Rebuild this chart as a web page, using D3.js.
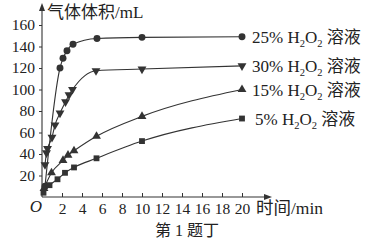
<!DOCTYPE html>
<html><head><meta charset="utf-8">
<script src="https://cdn.jsdelivr.net/npm/d3@7"></script>
<style>
body{margin:0;background:#fff;}
svg{display:block;}
</style></head>
<body><svg id="c" width="366" height="241"></svg>
<script>
// ---- data ----
const xTicks = [2,4,6,8,10,12,14,16,18,20];
const yTicks = [20,40,60,80,100,120,140,160];
const seriesNames = ["25%","30%","15%","5%"];
const markers = ["circle","triangleDown","triangleUp","square"];
const t25 = [0.3,1.8,2.1,2.5,3.1,5.5,10,20];
const v25 = [10,120,129,136,142,147.5,148.5,149];
const t30 = [0.3,0.45,0.55,1.0,1.3,1.8,2.35,2.7,3.05,5.4,10,20];
const v30 = [30,41,45,55.5,67,78,88.5,95,100,117.5,119,122];
const t15 = [0.2,0.95,2.1,2.6,3.2,5.45,10,20];
const v15 = [8,22.5,34,39,43,56.5,75,100];
const t5  = [0.15,0.75,1.55,2.3,3.2,5.45,10,20];
const v5  = [4,11,16.5,22.5,27.5,36,52,73];
const xLabel = "时间/min";
const yLabel = "气体体积/mL";
const caption = "第 1 题丁";

const svg = d3.select("#c");
const ink = "#333";
const serif = "'Liberation Serif','Noto Sans CJK SC',serif";
const x = d3.scaleLinear().domain([0,20]).range([42,242]);
const y = d3.scaleLinear().domain([0,160]).range([197,25]);

// axes
const gx = svg.append("g").attr("transform",`translate(0,${y(0)})`)
  .call(d3.axisBottom(x).tickValues(xTicks).tickSize(-4).tickPadding(6).tickSizeOuter(0));
const gy = svg.append("g").attr("transform",`translate(${x(0)},0)`)
  .call(d3.axisLeft(y).tickValues(yTicks).tickSize(3).tickPadding(4).tickSizeOuter(0));
[gx,gy].forEach(g=>{
  g.select(".domain").remove();
  g.selectAll("line").attr("stroke",ink);
  g.selectAll("text").attr("fill","#222").style("font-family",serif).style("font-size","15.5px");
});
gx.selectAll("text").attr("dy","0.71em");
// axis lines with arrows
svg.append("line").attr("x1",x(0)).attr("x2",268).attr("y1",y(0)).attr("y2",y(0)).attr("stroke",ink).attr("stroke-width",1.1);
svg.append("path").attr("d",`M272,${y(0)} L264,${y(0)-3} L264,${y(0)+3} Z`).attr("fill",ink);
svg.append("line").attr("x1",x(0)).attr("x2",x(0)).attr("y1",y(0)).attr("y2",8).attr("stroke",ink).attr("stroke-width",1.1);
svg.append("path").attr("d",`M${x(0)},3 L${x(0)-3},11 L${x(0)+3},11 Z`).attr("fill",ink);

svg.append("text").attr("x",36).attr("y",212).attr("text-anchor","middle")
  .style("font-family",serif).style("font-style","italic").style("font-size","17px").attr("fill","#222").text("O");
svg.append("text").attr("x",256).attr("y",214).style("font-family",serif).style("font-size","17.5px").attr("fill","#222").text(xLabel);
svg.append("text").attr("x",47).attr("y",18).style("font-family",serif).style("font-size","17px").attr("fill","#222").text(yLabel);
svg.append("text").attr("x",187).attr("y",236).attr("text-anchor","middle").style("font-family",serif).style("font-size","16px").attr("fill","#222").text(caption);

// series
const series = [[t25,v25],[t30,v30],[t15,v15],[t5,v5]].map((d,i)=>({
  name:seriesNames[i], marker:markers[i], pts:d[0].map((t,j)=>[t,d[1][j]])
}));
const line = d3.line().x(d=>x(d[0])).y(d=>y(d[1])).curve(d3.curveMonotoneX);
const sym = {
  circle: d3.symbol(d3.symbolCircle,38),
  square: d3.symbol(d3.symbolSquare,34),
  triangleUp: d3.symbol(d3.symbolTriangle,34),
  triangleDown: d3.symbol(d3.symbolTriangle,34)
};
series.forEach(s=>{
  svg.append("path").attr("d",line(s.pts)).attr("fill","none").attr("stroke",ink).attr("stroke-width",1.1);
  svg.selectAll(null).data(s.pts).enter().append("path")
    .attr("d",sym[s.marker]())
    .attr("transform",d=>`translate(${x(d[0])},${y(d[1])})${s.marker==="triangleDown"?" rotate(180)":""}`)
    .attr("fill",ink);
  const last = s.pts[s.pts.length-1];
  const t = svg.append("text").attr("x",x(last[0])+(s.name.length<3?13:10)).attr("y",y(last[1])+6)
    .style("font-family",serif).style("font-size","17px").attr("fill","#222");
  t.append("tspan").text(s.name+" H");
  t.append("tspan").attr("dy",4).style("font-size","10.5px").text("2");
  t.append("tspan").attr("dy",-4).text("O");
  t.append("tspan").attr("dy",4).style("font-size","10.5px").text("2");
  t.append("tspan").attr("dy",-4).text(" 溶液");
});
</script></body></html>
